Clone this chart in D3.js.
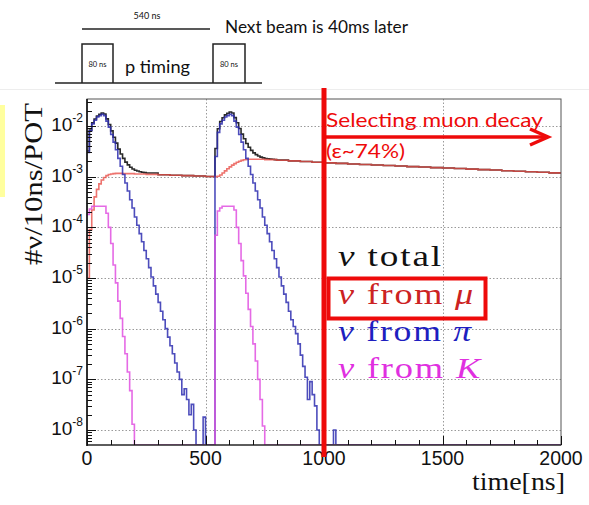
<!DOCTYPE html>
<html><head><meta charset="utf-8">
<script src="https://cdn.jsdelivr.net/npm/d3@7/dist/d3.min.js"></script>
<style>body{margin:0;background:#fff}svg{display:block}</style>
</head><body>
<svg id="c" width="589" height="505"></svg>
<script>
// ---------------- data ----------------
const xTickValues = [0, 500, 1000, 1500, 2000];
const yExponents = [-8, -7, -6, -5, -4, -3, -2];
const binNs = 10;
const nBins = 200;

// nu from pi, 10 ns bins
const pionBunch1Start = 0;
const pionBunch1 = [3.0e-3, 8.0e-3, 1.1e-2, 1.3e-2, 1.5e-2, 1.6e-2, 1.7e-2, 1.6e-2, 1.25e-2, 9.5e-3,
  6.8e-3, 4.8e-3, 3.4e-3, 2.3e-3, 1.6e-3, 1.1e-3, 7.5e-4, 5.2e-4, 3.5e-4, 2.4e-4,
  1.6e-4, 1.1e-4, 7.5e-5, 5.2e-5, 3.5e-5, 2.4e-5, 1.6e-5, 1.05e-5, 7.0e-6, 4.8e-6,
  3.3e-6, 2.2e-6, 1.5e-6, 1.0e-6, 6.8e-7, 4.6e-7, 3.2e-7, 2.1e-7, 1.4e-7, 1.0e-7,
  5.0e-8, 6.5e-8, 4.0e-8, 2.0e-8, 3.2e-8, 1.0e-8, 0, 0, 0, 1.8e-8];
const pionBunch2Start = 540;
const pionBunch2 = [2.5e-3, 7.5e-3, 1.1e-2, 1.3e-2, 1.5e-2, 1.6e-2, 1.7e-2, 1.6e-2, 1.25e-2, 9.5e-3,
  6.8e-3, 4.8e-3, 3.4e-3, 2.3e-3, 1.6e-3, 1.1e-3, 7.5e-4, 5.2e-4, 3.5e-4, 2.4e-4,
  1.6e-4, 1.1e-4, 7.5e-5, 5.2e-5, 3.5e-5, 2.4e-5, 1.6e-5, 1.05e-5, 7.0e-6, 4.8e-6,
  3.3e-6, 2.2e-6, 1.5e-6, 1.1e-6, 8.0e-7, 5.0e-7, 3.0e-7, 1.8e-7, 1.1e-7, 4.0e-8,
  9.0e-8, 5.0e-8, 3.0e-8, 1.0e-8];
const pionLateStart = 1040;
const pionLate = [1.0e-8];

// nu from K, 10 ns bins
const kaonBunch1Start = 0;
const kaonBunch1 = [1.8e-4, 2.3e-4, 2.6e-4, 2.6e-4, 2.6e-4, 2.6e-4, 2.6e-4, 2.6e-4, 1.9e-4, 1.0e-4,
  4.8e-5, 1.8e-5, 8.0e-6, 3.5e-6, 1.6e-6, 7.0e-7, 3.2e-7, 1.4e-7, 6.0e-8, 1.3e-8];
const kaonBunch2Start = 540;
const kaonBunch2 = [7.0e-5, 2.1e-4, 2.4e-4, 2.6e-4, 2.6e-4, 2.6e-4, 2.6e-4, 2.6e-4, 2.2e-4, 1.0e-4,
  4.8e-5, 2.2e-5, 1.1e-5, 5.0e-6, 2.4e-6, 1.1e-6, 5.0e-7, 2.3e-7, 1.0e-7, 4.0e-8, 1.2e-8];

// nu from mu: [time ns, value]
const muon = [[0,1.0e-5],[10,9e-5],[20,2.2e-4],[30,4.0e-4],[40,5.6e-4],[50,7.2e-4],[60,8.6e-4],[70,9.6e-4],
  [80,1.05e-3],[90,1.10e-3],[100,1.13e-3],[110,1.15e-3],[120,1.16e-3],[150,1.15e-3],[200,1.13e-3],
  [250,1.11e-3],[300,1.09e-3],[350,1.07e-3],[400,1.05e-3],[450,1.03e-3],[500,1.01e-3],
  [540,1.0e-3],[550,1.02e-3],[560,1.08e-3],[570,1.18e-3],[580,1.30e-3],[590,1.43e-3],[600,1.56e-3],
  [610,1.69e-3],[620,1.81e-3],[630,1.92e-3],[640,2.02e-3],[650,2.10e-3],[660,2.16e-3],[670,2.19e-3],
  [680,2.2e-3],[700,2.2e-3],[750,2.17e-3],[800,2.11e-3],[850,2.05e-3],[900,1.99e-3],[950,1.93e-3],
  [1000,1.87e-3],[1050,1.83e-3],[1100,1.78e-3],[1150,1.74e-3],[1200,1.70e-3],[1250,1.66e-3],
  [1300,1.62e-3],[1350,1.58e-3],[1400,1.55e-3],[1450,1.51e-3],[1500,1.48e-3],[1550,1.45e-3],
  [1600,1.41e-3],[1650,1.38e-3],[1700,1.35e-3],[1750,1.31e-3],[1800,1.28e-3],[1850,1.25e-3],
  [1900,1.22e-3],[1950,1.19e-3],[2000,1.17e-3]];

// nu total: [time ns, value]
const total = [[0,3.2e-3],[10,8.3e-3],[20,1.15e-2],[30,1.37e-2],[40,1.58e-2],[50,1.7e-2],[60,1.81e-2],
  [70,1.72e-2],[80,1.38e-2],[90,1.07e-2],[100,8.0e-3],[110,6.0e-3],[120,4.6e-3],[130,3.5e-3],
  [140,2.8e-3],[150,2.3e-3],[160,1.94e-3],[170,1.71e-3],[180,1.53e-3],[190,1.42e-3],[200,1.34e-3],
  [210,1.29e-3],[220,1.25e-3],[230,1.22e-3],[240,1.2e-3],[250,1.18e-3],[300,1.09e-3],[350,1.07e-3],
  [400,1.05e-3],[450,1.03e-3],[500,1.01e-3],
  [540,3.6e-3],[550,8.8e-3],[560,1.23e-2],[570,1.45e-2],[580,1.66e-2],[590,1.78e-2],[600,1.89e-2],
  [610,1.8e-2],[620,1.46e-2],[630,1.16e-2],[640,8.9e-3],[650,6.9e-3],[660,5.6e-3],[670,4.5e-3],
  [680,3.8e-3],[690,3.3e-3],[700,2.95e-3],[710,2.72e-3],[720,2.55e-3],[730,2.43e-3],[740,2.35e-3],
  [750,2.29e-3],[760,2.25e-3],[770,2.22e-3],[780,2.2e-3],[790,2.17e-3],[800,2.12e-3],[850,2.05e-3],
  [900,1.99e-3],[950,1.93e-3],[1000,1.87e-3],[1050,1.83e-3],[1100,1.78e-3],[1150,1.74e-3],
  [1200,1.70e-3],[1250,1.66e-3],[1300,1.62e-3],[1350,1.58e-3],[1400,1.55e-3],[1450,1.51e-3],
  [1500,1.48e-3],[1550,1.45e-3],[1600,1.41e-3],[1650,1.38e-3],[1700,1.35e-3],[1750,1.31e-3],
  [1800,1.28e-3],[1850,1.25e-3],[1900,1.22e-3],[1950,1.19e-3],[2000,1.17e-3]];

const legendLabels = [
  {nu: "ν", rest: " total", color: "#111111", width: 105},
  {nu: "ν", rest: " from μ", color: "#cc2222", width: 137},
  {nu: "ν", rest: " from π", color: "#1e1ec0", width: 135},
  {nu: "ν", rest: " from K", color: "#e030e0", width: 144}
];

// ---------------- drawing ----------------
const svg = d3.select("#c");
const L = 87, R = 561, T = 99, B = 445;
const x = d3.scaleLinear().domain([0, 2000]).range([L, R]);
const y = d3.scaleLog().domain([5.06e-9, 0.0341]).range([B, T]);

// top timing diagram
const tg = svg.append("g").attr("stroke", "#222").attr("fill", "none").attr("stroke-width", 1.5);
tg.append("line").attr("x1", 55).attr("x2", 262).attr("y1", 83).attr("y2", 83);
tg.append("polyline").attr("points", "82,83 82,44 113,44 113,83");
tg.append("polyline").attr("points", "213,83 213,44 245,44 245,83");
tg.append("line").attr("x1", 82).attr("x2", 210).attr("y1", 29).attr("y2", 29);
const tt = svg.append("g").attr("font-family", "Lato, 'Open Sans', sans-serif").attr("fill", "#111");
tt.append("text").attr("x", 147).attr("y", 19).attr("text-anchor", "middle").attr("font-size", 9).text("540 ns");
tt.append("text").attr("x", 97.5).attr("y", 67).attr("text-anchor", "middle").attr("font-size", 7.5).text("80 ns");
tt.append("text").attr("x", 229).attr("y", 67).attr("text-anchor", "middle").attr("font-size", 7.5).text("80 ns");
tt.append("text").attr("x", 125).attr("y", 73).attr("font-size", 18).attr("textLength", 65).attr("lengthAdjust", "spacingAndGlyphs").text("p timing");
tt.append("text").attr("x", 225).attr("y", 33).attr("font-size", 17).attr("textLength", 183).attr("lengthAdjust", "spacingAndGlyphs").text("Next beam is 40ms later");
svg.append("line").attr("x1", 0).attr("x2", 589).attr("y1", 89.5).attr("y2", 89.5).attr("stroke", "#ededed");
svg.append("rect").attr("x", 0).attr("y", 105).attr("width", 5).attr("height", 92).attr("fill", "#ffff9e");

// grid
const grid = svg.append("g").attr("stroke", "#9a9a9a").attr("stroke-width", 1).attr("stroke-dasharray", "1.5,2");
yExponents.forEach(e => {
  const yy = Math.round(y(Math.pow(10, e))) + 0.5;
  grid.append("line").attr("x1", L).attr("x2", R).attr("y1", yy).attr("y2", yy);
});
xTickValues.slice(1, -1).forEach(t => {
  const xx = Math.round(x(t)) + 0.5;
  grid.append("line").attr("x1", xx).attr("x2", xx).attr("y1", T).attr("y2", B);
});

// clip
svg.append("clipPath").attr("id", "clip").append("rect").attr("x", L).attr("y", T - 1).attr("width", R - L).attr("height", B - T + 1);
const plot = svg.append("g").attr("clip-path", "url(#clip)");

function binsFrom(segments) {
  const bins = new Array(nBins).fill(0);
  segments.forEach(([start, vals]) => vals.forEach((v, i) => { bins[start / binNs + i] = v; }));
  const pts = bins.map((v, i) => [i * binNs, v]);
  pts.push([nBins * binNs, bins[nBins - 1]]);
  return pts;
}
function withEnd(pairs) {
  const p = pairs.slice();
  const last = p[p.length - 1];
  if (last[0] < 2000) p.push([2000, last[1]]);
  return p;
}
const line = d3.line()
  .x(d => x(d[0]))
  .y(d => d[1] > 0 ? y(d[1]) : B)
  .curve(d3.curveStepAfter);

const pionPts = binsFrom([[pionBunch1Start, pionBunch1], [pionBunch2Start, pionBunch2], [pionLateStart, pionLate]]);
const kaonPts = binsFrom([[kaonBunch1Start, kaonBunch1], [kaonBunch2Start, kaonBunch2]]);

plot.append("path").attr("d", line(withEnd(total))).attr("fill", "none").attr("stroke", "#2a2a2a").attr("stroke-width", 1.6);
plot.append("path").attr("d", line(withEnd(muon))).attr("fill", "none").attr("stroke", "#e8504a").attr("stroke-width", 1.6).attr("stroke-opacity", 0.8);
plot.append("path").attr("d", line(pionPts)).attr("fill", "none").attr("stroke", "#2e2eb0").attr("stroke-width", 1.6).attr("stroke-opacity", 0.85);
plot.append("path").attr("d", line(kaonPts)).attr("fill", "none").attr("stroke", "#e050e0").attr("stroke-width", 1.6).attr("stroke-opacity", 0.85);

// frame
svg.append("rect").attr("x", L).attr("y", T).attr("width", R - L).attr("height", B - T)
  .attr("fill", "none").attr("stroke", "#555").attr("stroke-width", 1);
svg.append("line").attr("x1", L).attr("x2", L).attr("y1", T).attr("y2", B + 1).attr("stroke", "#111").attr("stroke-width", 1.6);
svg.append("line").attr("x1", L).attr("x2", R).attr("y1", B).attr("y2", B).attr("stroke", "#111").attr("stroke-width", 1.2);

// y ticks
const ticks = svg.append("g").attr("stroke", "#111").attr("stroke-width", 1);
const [ymin, ymax] = y.domain();
for (let e = -9; e <= -1; e++) {
  for (let m = 1; m <= 9; m++) {
    const v = m * Math.pow(10, e);
    if (v < ymin || v > ymax) continue;
    const yy = Math.round(y(v)) + 0.5;
    ticks.append("line").attr("x1", L).attr("x2", L + (m === 1 ? 9 : 5)).attr("y1", yy).attr("y2", yy);
  }
}
// x ticks
for (let t = 0; t <= 2000; t += 100) {
  const xx = Math.round(x(t)) + 0.5;
  ticks.append("line").attr("x1", xx).attr("x2", xx).attr("y1", B).attr("y2", B - (t % 500 === 0 ? 9 : 5));
}

// y tick labels
const yl = svg.append("g").attr("font-family", "'Liberation Sans', Arial, sans-serif").attr("fill", "#111");
yExponents.forEach(e => {
  const t = yl.append("text").attr("x", 83).attr("y", y(Math.pow(10, e)) + 5).attr("text-anchor", "end");
  t.append("tspan").attr("font-size", 19).text("10");
  t.append("tspan").attr("font-size", 12).attr("dy", -9).text(String(e));
});
// x tick labels
const xl = svg.append("g").attr("font-family", "'Liberation Sans', Arial, sans-serif").attr("fill", "#111").attr("font-size", 19.5);
xTickValues.forEach(t => {
  xl.append("text").attr("x", x(t)).attr("y", 465).attr("text-anchor", "middle").text(t);
});

// axis titles
svg.append("text").attr("x", 565).attr("y", 490).attr("text-anchor", "end")
  .attr("font-family", "'Liberation Serif', 'Times New Roman', serif").attr("font-size", 25).attr("fill", "#111")
  .attr("textLength", 93).attr("lengthAdjust", "spacingAndGlyphs").text("time[ns]");
svg.append("text").attr("transform", "translate(42,184) rotate(-90)").attr("text-anchor", "middle")
  .attr("font-family", "'Liberation Serif', 'Times New Roman', serif").attr("font-size", 25).attr("fill", "#111")
  .attr("textLength", 162).attr("lengthAdjust", "spacingAndGlyphs").text("#ν/10ns/POT");

// legend
const lg = svg.append("g").attr("font-family", "'Liberation Serif', 'Times New Roman', serif").attr("font-size", 30)
  .attr("letter-spacing", 1.5);
const legendBase = [266, 304, 341, 378];
legendLabels.forEach((d, i) => {
  const t = lg.append("text").attr("x", 338).attr("y", legendBase[i]).attr("fill", d.color)
    .attr("textLength", d.width).attr("lengthAdjust", "spacingAndGlyphs");
  t.append("tspan").attr("font-style", "italic").text(d.nu);
  const parts = d.rest.split(" ");
  const last = parts[parts.length - 1];
  const isSym = (last === "μ" || last === "π" || last === "K");
  t.append("tspan").text(isSym ? d.rest.slice(0, d.rest.length - last.length) : d.rest);
  if (isSym) t.append("tspan").attr("font-style", "italic").text(last);
});

// red annotations
const red = "#ee0a0a";
svg.append("rect").attr("x", 328.5).attr("y", 278.5).attr("width", 157).attr("height", 40)
  .attr("fill", "none").attr("stroke", red).attr("stroke-width", 4);
svg.append("line").attr("x1", x(1000)).attr("x2", x(1000)).attr("y1", 88).attr("y2", 457)
  .attr("stroke", red).attr("stroke-width", 5);
svg.append("line").attr("x1", x(1000)).attr("x2", 546).attr("y1", 137).attr("y2", 137)
  .attr("stroke", red).attr("stroke-width", 3.5);
svg.append("polyline").attr("points", "530,129 548,137 530,145").attr("fill", "none")
  .attr("stroke", red).attr("stroke-width", 3.5);
const at = svg.append("g").attr("font-family", "Lato, 'Open Sans', sans-serif").attr("fill", red).attr("font-size", 19);
at.append("text").attr("x", 326).attr("y", 127).attr("textLength", 217).attr("lengthAdjust", "spacingAndGlyphs").text("Selecting muon decay");
at.append("text").attr("x", 326).attr("y", 158).attr("textLength", 79).attr("lengthAdjust", "spacingAndGlyphs").text("(ε~74%)");
</script>
</body></html>
